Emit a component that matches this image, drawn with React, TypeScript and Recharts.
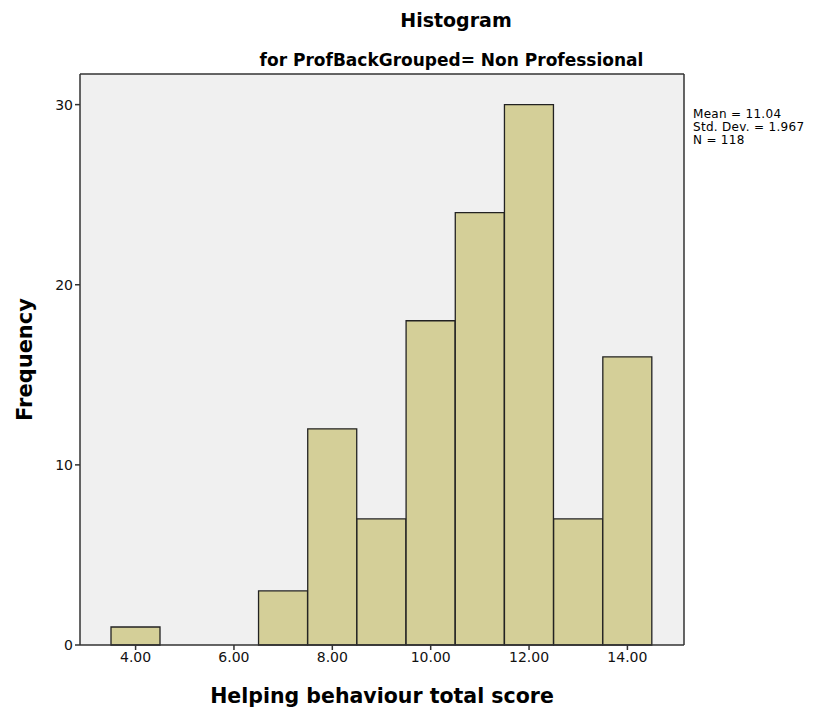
import React from 'react';
import { ComposedChart, Bar, XAxis, YAxis, CartesianGrid } from 'recharts';

// histogram bins (bin centres, width 1) and their frequencies
const bins = [4, 5, 6, 7, 8, 9, 10, 11, 12, 13, 14];
const counts = [1, 0, 0, 3, 12, 7, 18, 24, 30, 7, 16];
const yTicks = [0, 10, 20, 30];
const statLines = ['Mean = 11.04', 'Std. Dev. = 1.967', 'N = 118'];

const chartData = bins.map((b, i) => ({ bin: b, count: counts[i] }));

const axisColor = '#333333';
const tickStyle = { fill: '#111', fontSize: 14, fontFamily: 'DejaVu Sans' };

const App: React.FC = () => {
  return (
    <div style={{ position: 'absolute', left: 0, top: 0, width: 831, height: 714, background: '#fff' }}>
      <div
        style={{
          position: 'absolute', left: 0, width: 912, top: 9, textAlign: 'center',
          fontFamily: 'DejaVu Sans', fontWeight: 'bold', fontSize: 19, color: '#000',
        }}
      >
        Histogram
      </div>
      <div
        style={{
          position: 'absolute', left: 0, width: 903, top: 50, textAlign: 'center',
          fontFamily: 'DejaVu Sans', fontWeight: 'bold', fontSize: 17, color: '#000',
        }}
      >
        for ProfBackGrouped= Non Professional
      </div>
      <div
        style={{
          position: 'absolute', left: 693, top: 108, fontFamily: 'DejaVu Sans',
          fontSize: 12, lineHeight: '13px', letterSpacing: 0.3, color: '#000',
        }}
      >
        {statLines.map(s => <div key={s}>{s}</div>)}
      </div>
      <ComposedChart
        width={831}
        height={714}
        data={chartData}
        margin={{ top: 73, right: 146, left: 0, bottom: 0 }}
        barCategoryGap={0}
        barGap={0}
      >
        <CartesianGrid horizontal={false} vertical={false} fill="#f0f0f0" />
        <XAxis
          dataKey="bin"
          type="category"
          height={69}
          padding={{ left: 31, right: 32 }}
          interval={1}
          tickSize={5}
          tickFormatter={(v: number) => Number(v).toFixed(2)}
          tick={tickStyle}
          stroke={axisColor}
          strokeWidth={1.5}
          label={{
            value: 'Helping behaviour total score', position: 'insideBottom', offset: 11,
            style: { fill: '#000', fontSize: 20.5, fontWeight: 'bold', fontFamily: 'DejaVu Sans' },
          }}
        />
        <XAxis xAxisId="top" dataKey="bin" orientation="top" height={1} tick={false} tickLine={false} stroke={axisColor} strokeWidth={1.5} />
        <YAxis
          domain={[0, 31.7]}
          ticks={yTicks}
          width={80}
          tickSize={5}
          tick={tickStyle}
          stroke={axisColor}
          strokeWidth={1.5}
          label={{
            value: 'Frequency', angle: -90, position: 'insideLeft', offset: 25,
            style: { textAnchor: 'middle', fill: '#000', fontSize: 21, fontWeight: 'bold', fontFamily: 'DejaVu Sans' },
          }}
        />
        <YAxis yAxisId="right" orientation="right" width={1} tick={false} tickLine={false} stroke={axisColor} strokeWidth={1.5} />
        <Bar dataKey="count" fill="#d4cf98" stroke="#222" strokeWidth={1.3} isAnimationActive={false} />
      </ComposedChart>
    </div>
  );
};

export default App;
